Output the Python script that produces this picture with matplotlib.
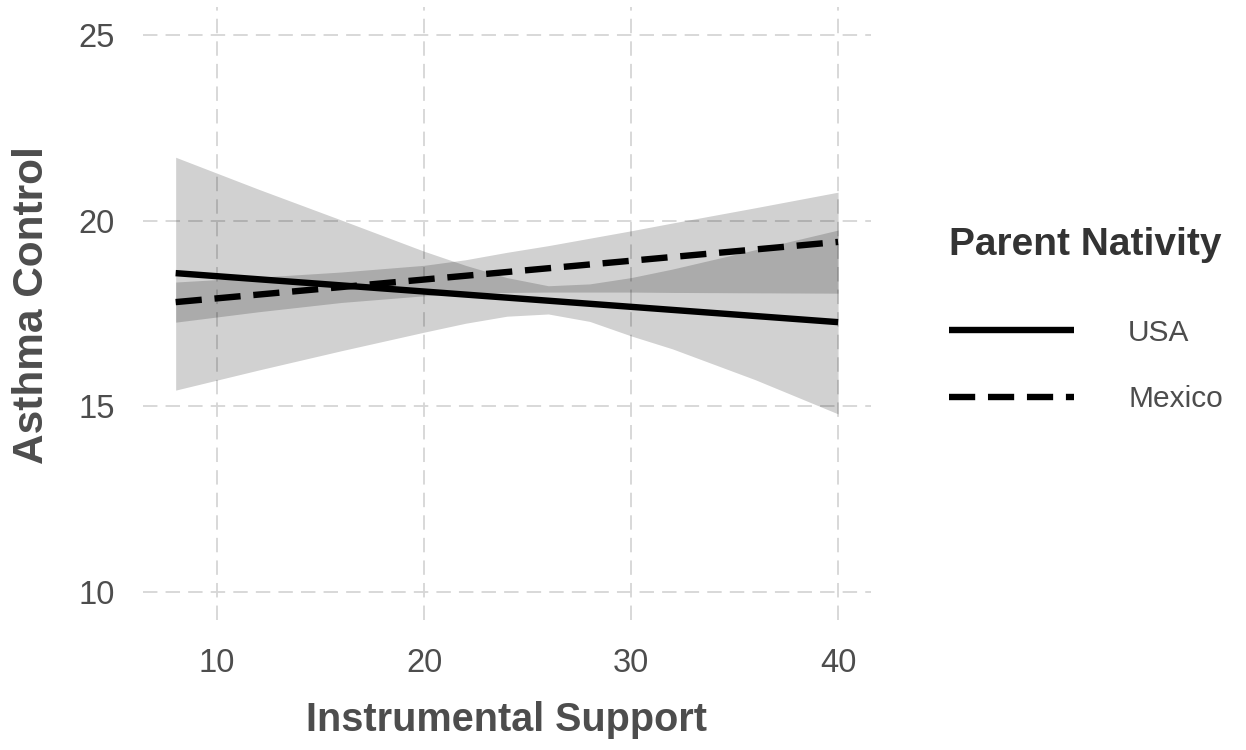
import numpy as np
import matplotlib.pyplot as plt
from matplotlib.lines import Line2D

plt.rcParams['font.family'] = ['Liberation Sans', 'DejaVu Sans']

# fitted lines (end points)
LINE_X = [8, 40]
USA_Y = [18.59, 17.27]
MEXICO_Y = [17.81, 19.43]

# confidence ribbons, read at a handful of x positions
BAND_X = [8, 12, 16, 20, 22, 24, 26, 28, 30, 32, 36, 40]
USA_LO = [15.44, 15.98, 16.5, 17.0, 17.24, 17.43, 17.49, 17.29, 16.9, 16.55, 15.72, 14.8]
USA_HI = [21.71, 20.85, 20.02, 19.18, 18.8, 18.47, 18.25, 18.3, 18.47, 18.7, 19.22, 19.75]
MEX_LO = [17.27, 17.55, 17.8, 17.98, 18.04, 18.07, 18.08, 18.08, 18.08, 18.07, 18.06, 18.05]
MEX_HI = [18.35, 18.48, 18.62, 18.8, 18.95, 19.15, 19.33, 19.53, 19.73, 19.94, 20.35, 20.77]

X_TICKS = [10, 20, 30, 40]
Y_TICKS = [10, 15, 20, 25]

TXT = '#4d4d4d'
LW = 4.6
DASH = (0, (4.1, 2.0))

fig = plt.figure(figsize=(12.46, 7.5), dpi=100)
ax = fig.add_axes([0.1144, 0.1733, 0.5848, 0.8171])

ax.fill_between(BAND_X, USA_LO, USA_HI, color='black', alpha=0.18, lw=0)
ax.fill_between(BAND_X, MEX_LO, MEX_HI, color='black', alpha=0.18, lw=0)
ax.plot(LINE_X, USA_Y, color='black', lw=LW, solid_capstyle='butt')
ax.plot(LINE_X, MEXICO_Y, color='black', lw=LW, linestyle=DASH, dash_capstyle='butt')

ax.set_xlim(6.4, 41.6)
ax.set_ylim(9.25, 25.75)
ax.set_xticks(X_TICKS)
ax.set_yticks(Y_TICKS)
ax.grid(True, color='#d6d6d6', lw=1.3, linestyle=(0, (8, 4.5)))
ax.set_axisbelow(True)
for s in ax.spines.values():
    s.set_visible(False)
ax.tick_params(length=0, labelsize=23.5, labelcolor=TXT)
ax.tick_params(axis='y', pad=20)
ax.tick_params(axis='x', pad=20)

ax.set_xlabel('Instrumental Support', fontsize=28.5, fontweight='bold', color=TXT, labelpad=16)
ax.set_ylabel('Asthma Control', fontsize=30.5, fontweight='bold', color=TXT)
ax.yaxis.set_label_coords(-0.124, 0.514)

handles = [
    Line2D([], [], color='black', lw=LW, solid_capstyle='butt'),
    Line2D([], [], color='black', lw=LW, linestyle=DASH, dash_capstyle='butt'),
]
leg = fig.legend(handles, ['USA', 'Mexico'], loc='upper left',
                 bbox_to_anchor=(0.7616, 0.697), frameon=False,
                 fontsize=21.5, handlelength=4.2, handletextpad=1.8,
                 labelspacing=1.28, borderpad=0, borderaxespad=0,
                 title='Parent Nativity', alignment='left')
leg.get_title().set_fontsize(28)
leg.get_title().set_fontweight('bold')
leg.get_title().set_color('#333333')
leg._legend_box.sep = 40
for t in leg.get_texts():
    t.set_color(TXT)

fig.savefig('out.png', dpi=100)
